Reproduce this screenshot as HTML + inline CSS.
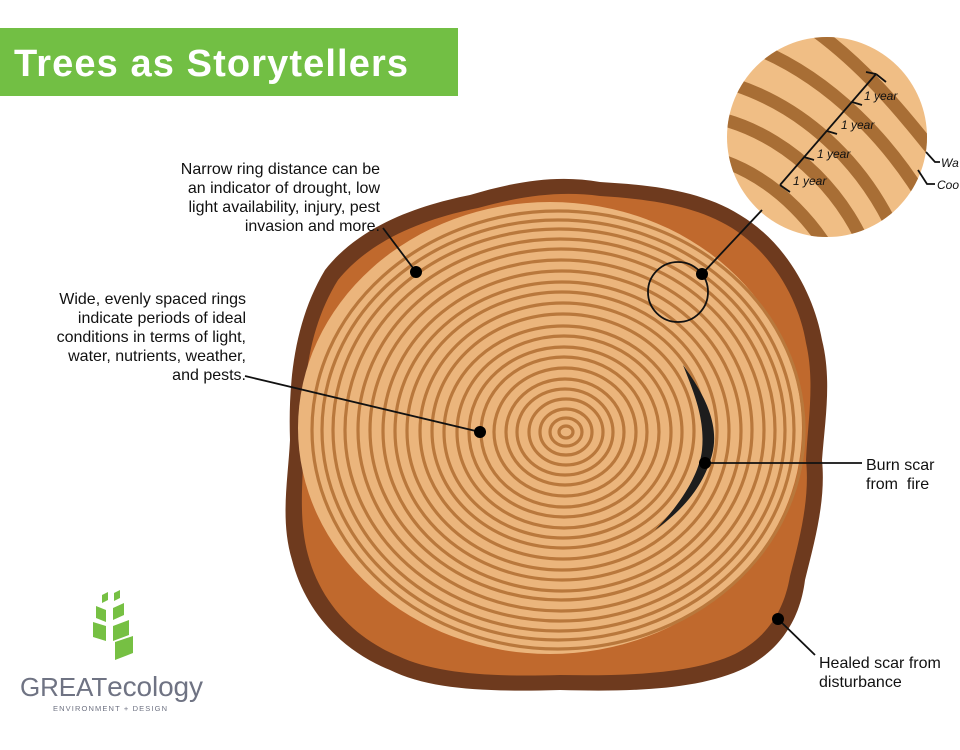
<!DOCTYPE html>
<html><head><meta charset="utf-8"><style>
html,body{margin:0;padding:0;background:#fff;}
body{width:960px;height:750px;position:relative;overflow:hidden;font-family:"Liberation Sans",sans-serif;}
.t{position:absolute;font-size:16px;line-height:19px;color:#111;}
</style></head><body>
<svg width="960" height="750" style="position:absolute;left:0;top:0">
<rect x="0" y="28" width="458" height="68" fill="#72bf44"/>
<text x="14" y="76" font-family="Liberation Sans" font-weight="bold" font-size="38" fill="#fff" textLength="394">Trees as Storytellers</text>
<!-- bark -->
<path d="M325,270 C360,225 420,205 470,195 C520,180 560,175 600,182 C650,185 700,190 740,215 C790,245 815,300 822,340 C832,380 825,420 822,460 C826,500 815,540 805,580 C800,620 780,650 745,668 C700,690 630,692 560,690 C490,692 430,690 390,670 C340,650 305,610 292,560 C280,520 288,480 290,440 C288,380 295,320 325,270 Z" fill="#6e3a1e"/>
<path d="M338,280 C372,238 428,218 478,208 C525,195 562,191 600,196 C648,199 695,205 732,228 C776,256 800,305 806,343 C815,382 808,420 806,460 C810,498 800,538 790,576 C784,612 766,638 735,654 C692,674 628,676 560,675 C493,677 436,674 398,656 C352,637 320,600 308,555 C298,518 303,480 304,440 C302,380 310,325 338,280 Z" fill="#c0692d"/>
<ellipse cx="550" cy="428" rx="252" ry="226" fill="#ebb57c"/>
<g fill="none" stroke="#b9783c" stroke-width="3.2">
<ellipse cx="558" cy="430" rx="246" ry="219"/>
<ellipse cx="558" cy="430" rx="236" ry="210"/>
<ellipse cx="559" cy="430" rx="226" ry="201"/>
<ellipse cx="560" cy="430" rx="215" ry="191"/>
<ellipse cx="561" cy="430" rx="203" ry="181"/>
<ellipse cx="561" cy="430" rx="191" ry="170"/>
<ellipse cx="562" cy="431" rx="179" ry="160"/>
<ellipse cx="562" cy="431" rx="167" ry="149"/>
<ellipse cx="562" cy="431" rx="155" ry="139"/>
<ellipse cx="563" cy="431" rx="143" ry="128"/>
<ellipse cx="563" cy="431" rx="131" ry="117"/>
<ellipse cx="563" cy="432" rx="119" ry="106"/>
<ellipse cx="564" cy="432" rx="107" ry="96"/>
<ellipse cx="564" cy="432" rx="95" ry="85"/>
<ellipse cx="564" cy="432" rx="83" ry="75"/>
<ellipse cx="565" cy="432" rx="71" ry="64"/>
<ellipse cx="565" cy="432" rx="59" ry="53"/>
<ellipse cx="565" cy="432" rx="48" ry="43"/>
<ellipse cx="566" cy="432" rx="37" ry="33"/>
<ellipse cx="566" cy="432" rx="26" ry="23"/>
<ellipse cx="566" cy="432" rx="16" ry="14"/>
<ellipse cx="566" cy="432" rx="7" ry="6"/>
</g>
<!-- burn scar -->
<path d="M683,365 C705,395 720,425 712,455 C705,480 690,505 655,530 C685,500 700,470 702,450 C705,420 695,395 683,365 Z" fill="#1d1d1d"/>
<!-- inset -->
<defs><clipPath id="c"><circle cx="827" cy="137" r="100"/></clipPath></defs>
<circle cx="827" cy="137" r="100" fill="#f0be85"/>
<g clip-path="url(#c)" fill="none" stroke="#a86e35" stroke-width="13">
<path d="M800,20 C860,60 900,110 940,160"/>
<path d="M760,50 C830,80 890,140 930,210"/>
<path d="M735,85 C810,110 870,170 900,245"/>
<path d="M725,120 C795,140 850,200 870,260"/>
<path d="M720,160 C780,180 820,230 840,270"/>
</g>
<g fill="none" stroke="#111" stroke-width="1.8">
<path d="M780,185 L876,74"/>
<path d="M876,74 L866,72 M876,74 L886,82"/>
<path d="M852,102 L862,105"/><path d="M827,131 L837,134"/><path d="M804,157 L814,160"/>
<path d="M780,185 L790,192"/>
<path d="M926,152 L935,162 L940,162"/><path d="M918,170 L927,184 L935,184"/>
<circle cx="678" cy="292" r="30"/>
<line x1="702" y1="274" x2="762" y2="210"/>
<line x1="416" y1="272" x2="383" y2="228"/>
<line x1="480" y1="432" x2="245" y2="376"/>
<line x1="705" y1="463" x2="862" y2="463"/>
<line x1="778" y1="619" x2="815" y2="655"/>
</g>
<g fill="#000"><circle cx="702" cy="274" r="6"/><circle cx="416" cy="272" r="6"/><circle cx="480" cy="432" r="6"/><circle cx="705" cy="463" r="6"/><circle cx="778" cy="619" r="6"/></g>
<g font-family="Liberation Sans" font-style="italic" font-size="12" fill="#111">
<text x="864" y="100">1 year</text><text x="841" y="129">1 year</text><text x="817" y="158">1 year</text><text x="793" y="185">1 year</text>
<text x="941" y="167">Wa</text><text x="937" y="189">Coo</text>
</g>
<!-- logo -->
<g fill="#76c043">
<path d="M102,595 l6,-3 v8 l-6,3z"/><path d="M114,593 l6,-3 v8 l-6,3z"/>
<path d="M96,606 l10,4 v12 l-10,-4z"/><path d="M113,608 l11,-5 v12 l-11,5z"/>
<path d="M93,622 l13,4 v15 l-13,-4z"/><path d="M113,626 l16,-6 v15 l-16,6z"/>
<path d="M115,642 l18,-6 v17 l-18,7z"/>
</g>
<text x="20" y="696" font-family="Liberation Sans" font-size="26" fill="#6f7383" textLength="183">GREAT<tspan font-size="28">ecology</tspan></text>
<text x="53" y="711" font-family="Liberation Sans" font-size="7.5" fill="#6f7383" textLength="114">ENVIRONMENT + DESIGN</text>
</svg>
<div class="t" style="right:580px;top:160px;text-align:right;width:300px">Narrow ring distance can be<br>an indicator of drought, low<br>light availability, injury, pest<br>invasion and more.</div>
<div class="t" style="right:714px;top:290px;text-align:right;width:260px">Wide, evenly spaced rings<br>indicate periods of ideal<br>conditions in terms of light,<br>water, nutrients, weather,<br>and pests.</div>
<div class="t" style="left:866px;top:456px">Burn scar<br>from &nbsp;fire</div>
<div class="t" style="left:819px;top:654px;white-space:nowrap">Healed scar from<br>disturbance</div>
</body></html>
